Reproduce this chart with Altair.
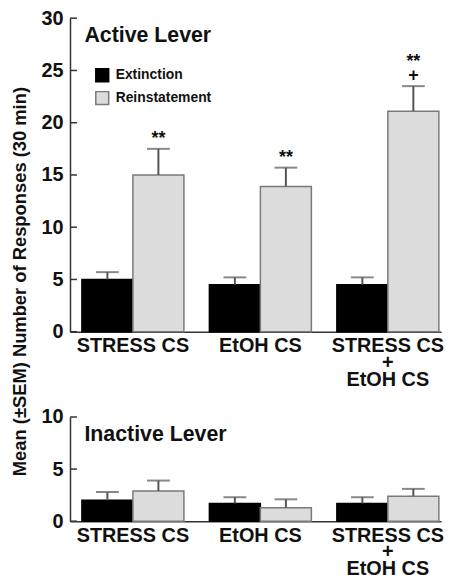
import altair as alt
import pandas as pd

categories = ["STRESS CS", "EtOH CS", "STRESS CS\n+\nEtOH CS"]
series = ["Extinction", "Reinstatement"]

active_ext = [5.0, 4.5, 4.5]
active_ext_sem = [0.7, 0.7, 0.7]
active_rein = [15.0, 13.9, 21.1]
active_rein_sem = [2.5, 1.8, 2.4]
active_marks_low = ["**", "**", "+"]
active_marks_high = ["", "", "**"]

inactive_ext = [2.0, 1.7, 1.7]
inactive_ext_sem = [0.8, 0.6, 0.6]
inactive_rein = [2.9, 1.3, 2.4]
inactive_rein_sem = [1.0, 0.8, 0.7]

active_ticks = [0, 5, 10, 15, 20, 25, 30]
inactive_ticks = [0, 5, 10]
panel_titles = ["Active Lever", "Inactive Lever"]
y_title = "Mean (±SEM) Number of Responses (30 min)"

FONT = "Liberation Sans"
fill_colors = ["#000000", "#dcdcdc"]
stroke_colors = ["#000000", "#7a7a7a"]
W = 374


def make_df(ext, ext_sem, rein, rein_sem, low=None, high=None):
    rows = []
    for i, c in enumerate(categories):
        rows.append({"group": c, "series": series[0], "value": ext[i],
                     "upper": ext[i] + ext_sem[i], "low": "", "high": ""})
        rows.append({"group": c, "series": series[1], "value": rein[i],
                     "upper": rein[i] + rein_sem[i],
                     "low": low[i] if low else "", "high": high[i] if high else ""})
    return pd.DataFrame(rows)


def panel(df, ticks, title, show_legend, with_ytitle):
    xscale = alt.Scale(domain=categories, paddingInner=0.2, paddingOuter=0.0553,
                       align=0.845)
    x = alt.X("group:N", sort=categories, scale=xscale,
              axis=alt.Axis(title=None, labelAngle=0, ticks=False,
                            labelFontSize=20, labelFontWeight="bold", labelFont=FONT,
                            labelColor="#111", labelPadding=4, labelLineHeight=17,
                            labelExpr="split(datum.label, '\\n')",
                            domainColor="#333", domainWidth=1.5))
    xo = alt.XOffset("series:N", sort=series)
    yscale = alt.Scale(domain=[ticks[0], ticks[-1]], nice=False)

    yaxis_kwargs = dict(values=ticks, ticks=False, grid=False, labelFontSize=20,
                        labelFontWeight="bold", labelFont=FONT, labelColor="#111",
                        labelPadding=7, domainColor="#333", domainWidth=1.5)
    if with_ytitle:
        yaxis_kwargs.update(title=y_title, titleFont=FONT, titleFontSize=18.5,
                            titleFontWeight="bold", titleColor="#111", titleAngle=270,
                            titleX=-51, titleY=265, titleAlign="center",
                            titleBaseline="middle")
    else:
        yaxis_kwargs.update(title=None)
    yaxis = alt.Axis(**yaxis_kwargs)

    legend = None
    if show_legend:
        legend = alt.Legend(title=None, orient="none", legendX=25, legendY=50,
                            symbolType="square", symbolSize=169, symbolStrokeWidth=1.5,
                            labelFont=FONT, labelFontSize=14, labelFontWeight="bold",
                            labelColor="#111", labelOffset=6, rowPadding=4)

    base = alt.Chart(df)
    bars = base.mark_bar(strokeWidth=1.5).encode(
        x=x, xOffset=xo,
        y=alt.Y("value:Q", scale=yscale, axis=yaxis),
        fill=alt.Fill("series:N", sort=series,
                      scale=alt.Scale(domain=series, range=fill_colors), legend=legend),
        stroke=alt.Stroke("series:N", sort=series,
                          scale=alt.Scale(domain=series, range=stroke_colors), legend=legend),
    )
    err = base.mark_rule(color="#555", strokeWidth=2).encode(
        x=x, xOffset=xo, y=alt.Y("value:Q", scale=yscale, axis=yaxis), y2="upper:Q")
    cap = base.mark_tick(color="#555", thickness=2, size=23).encode(
        x=x, xOffset=xo, y=alt.Y("upper:Q", scale=yscale, axis=yaxis))
    layers = [bars, err, cap]
    if (df["low"].str.len().sum() + df["high"].str.len().sum()) > 0:
        for field, dy in (("low", -1), ("high", -15)):
            txt = base.mark_text(font=FONT, fontSize=18, fontWeight="bold", color="#111",
                                 baseline="bottom", dy=dy).encode(
                x=x, xOffset=xo, y=alt.Y("upper:Q", scale=yscale, axis=yaxis),
                text=f"{field}:N")
            layers.append(txt)
    tick_rules = alt.Chart(pd.DataFrame({"t": ticks})).mark_rule(
        color="#333", strokeWidth=1.5).encode(
        x=alt.value(0), x2=alt.value(7), y=alt.Y("t:Q", scale=yscale, axis=yaxis))
    layers.append(tick_rules)
    ttl = alt.Chart(pd.DataFrame({"t": [title]})).mark_text(
        font=FONT, fontSize=21.5, fontWeight="bold", color="#111",
        align="left", baseline="middle").encode(
        x=alt.value(14.5), y=alt.value(18), text="t:N")
    layers.append(ttl)
    return alt.layer(*layers)


top = panel(make_df(active_ext, active_ext_sem, active_rein, active_rein_sem,
                    active_marks_low, active_marks_high),
            active_ticks, panel_titles[0], True, True).properties(width=W, height=316)
bottom = panel(make_df(inactive_ext, inactive_ext_sem, inactive_rein, inactive_rein_sem),
               inactive_ticks, panel_titles[1], False, False).properties(width=W, height=105)

chart = alt.vconcat(top, bottom, spacing=86, bounds="flush").resolve_scale(
    fill="independent", stroke="independent", x="independent", y="independent"
).properties(
    padding={"left": 1.5, "top": -2, "right": 0, "bottom": 0}
).configure(background="white", view=alt.ViewConfig(stroke=None))

chart.save("out.html", embed_options={"renderer": "svg", "actions": False})
